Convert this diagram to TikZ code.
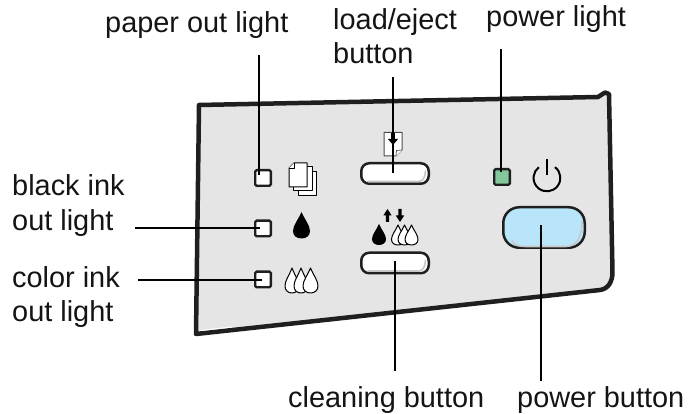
\documentclass[tikz,border=0pt]{standalone}
\usepackage{fontspec}
\setmainfont{Liberation Sans}
\newcommand{\drpshape}{(0,0) .. controls (-.4,.3) and (-1,.5) .. (-1,.72) .. controls (-1,.9) and (-.55,1) .. (0,1) .. controls (.55,1) and (1,.9) .. (1,.72) .. controls (1,.5) and (.4,.3) .. (0,0) -- cycle}
\newcommand{\wdrp}[4]{\draw[glyph,shift={(#1,#2)},xscale=#3,yscale=#4] \drpshape;}
\newcommand{\bdrp}[4]{\fill[black,shift={(#1,#2)},xscale=#3,yscale=#4] \drpshape;}
\newcommand{\arrowup}[1]{\fill[black,shift={(#1,209)}] (0,0) -- (4.2,6.5) -- (1.6,6.5) -- (1.6,13) -- (-1.6,13) -- (-1.6,6.5) -- (-4.2,6.5) -- cycle;}
\newcommand{\arrowdn}[1]{\fill[black,shift={(#1,222)}] (0,0) -- (4.2,-6.5) -- (1.6,-6.5) -- (1.6,-13) -- (-1.6,-13) -- (-1.6,-6.5) -- (-4.2,-6.5) -- cycle;}
\begin{document}
\begin{tikzpicture}[x=1pt,y=-1pt,
 lbl/.style={inner sep=0pt,font=\fontsize{28.9}{34}\selectfont,anchor=base west,text=black!92},
 lead/.style={line width=1.7pt,black},
 lamp/.style={draw=black!88,line width=2.3pt,fill=white,rounded corners=1.5pt,minimum size=15.7pt,inner sep=0pt},
 btn/.style={draw=black!88,line width=2.5pt,fill=white,rounded corners=8pt,inner sep=0pt,minimum width=67.5pt,minimum height=20.5pt},
 glyph/.style={draw=black,line width=1pt,fill=white,line join=round},
 bevel/.style={black!22,line width=1.6pt,line cap=round}]
\useasboundingbox (0,0) rectangle (689,414);
% panel
\draw[line width=4.5pt,draw=black!88,fill=black!10,line join=round]
 (199,105) -- (598,97) -- (605,92.5) -- (609,94) -- (612.5,272) .. controls (612.5,282) and (608,289) .. (600,290) -- (196,334) -- cycle;
\draw[white,line width=1pt] (200,330.5) -- (232,327);
% lamps and buttons
\node[lamp] (paperlamp) at (263,178) {};
\node[lamp] (blacklamp) at (263,228.5) {};
\node[lamp] (colorlamp) at (263,279.5) {};
\node[lamp,fill={rgb,255:red,130;green,200;blue,155}] (powerlamp) at (502,177) {};
\node[btn] (loadbtn) at (395,173.5) {};
\node[btn] (cleanbtn) at (395,263) {};
\node[btn,fill={rgb,255:red,185;green,229;blue,250},rounded corners=16pt,minimum width=81.5pt,minimum height=40.5pt] (powerbtn) at (544,227.5) {};
% bevel highlights
\draw[bevel] (368,181.5) -- (418,181.5) .. controls (423,181.5) and (425,178) .. (425.5,171);
\draw[bevel] (368,271) -- (418,271) .. controls (423,271) and (425,267.5) .. (425.5,260.5);
\draw[bevel] (512,241) .. controls (516,246) and (520,246.5) .. (526,246.5) -- (566,246.5) .. controls (577,246) and (581.5,238) .. (582,222);
% paper icon
\draw[glyph] (298,172) rectangle (316,196);
\draw[glyph] (293,167) rectangle (312,191);
\draw[glyph] (289,168) -- (294,163) -- (307,163) -- (307,187) -- (289,187) -- cycle;
\draw[glyph,line width=.6pt] (289,168) -- (294,168) -- (294,163);
% load icon
\draw[glyph,draw=black!70] (384,132.5) -- (402,132.5) -- (402,150) -- (396,156) -- (384,156) -- cycle;
\draw[glyph,draw=black!70,line width=.7pt] (396,156) -- (396.5,150.5) -- (402,150);
\fill[black] (391.2,133) -- (394.8,133) -- (394.8,139) -- (398,139) -- (393,145) -- (388,139) -- (391.2,139) -- cycle;
% drops
\bdrp{301.5}{212}{8.5}{26.5}
\wdrp{292}{268}{7}{25}
\wdrp{301}{268}{7}{25}
\wdrp{310.5}{268}{7.5}{25}
\bdrp{379}{224}{7}{21}
\wdrp{398}{225}{6.5}{20}
\wdrp{404.5}{225}{6.5}{20}
\wdrp{411.5}{225}{6.5}{20}
\arrowup{387.5}
\arrowdn{400}
% power symbol
\draw[black,line width=2pt,line cap=butt] (555,167.2) arc[start angle=-53,end angle=233,radius=13.4];
\draw[black,line width=2pt] (547,159) -- (547,175);
% texts
\node[lbl] (t1) at (105,33) {paper out light};
\node[lbl] (t2) at (333,29.5) {load/eject};
\node[lbl] (t2b) at (333,64) {button};
\node[lbl] (t3) at (486,27) {power light};
\node[lbl] (t4) at (12,196) {black ink};
\node[lbl] (t4b) at (12,231) {out light};
\node[lbl] (t5) at (12,288) {color ink};
\node[lbl] (t5b) at (12,322) {out light};
\node[lbl] (t6) at (288,407) {cleaning button};
\node[lbl] (t7) at (517,407.5) {power button};
% leaders
\coordinate (a1) at (259,55); \coordinate (a1e) at (259,175);
\coordinate (a2) at (393,77); \coordinate (a2e) at (393,173);
\coordinate (a3) at (501,49); \coordinate (a3e) at (501,172);
\coordinate (a4) at (135,228); \coordinate (a4e) at (260,228);
\coordinate (a5) at (138,280); \coordinate (a5e) at (262,280);
\coordinate (a6) at (395,371); \coordinate (a6e) at (395,261);
\coordinate (a7) at (541,381); \coordinate (a7e) at (541,225);
\draw[lead] (a1)--(a1e); \draw[lead] (a2)--(a2e); \draw[lead] (a3)--(a3e);
\draw[lead] (a4)--(a4e); \draw[lead] (a5)--(a5e); \draw[lead] (a6)--(a6e); \draw[lead] (a7)--(a7e);
\end{tikzpicture}
\end{document}
